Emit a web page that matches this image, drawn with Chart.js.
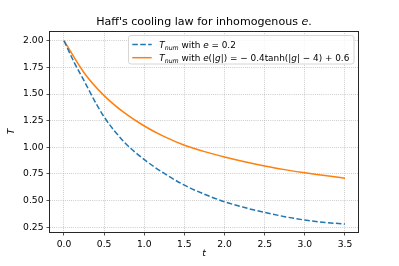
<!DOCTYPE html>
<html><head><meta charset="utf-8">
<script src="https://cdn.jsdelivr.net/npm/chart.js@4/dist/chart.umd.min.js"></script>
<style>html,body{margin:0;padding:0;background:#fff}#wrap{width:399px;height:266px}</style>
</head><body><div id="wrap"><canvas id="c" width="399" height="266"></canvas></div>
<script>
const timeConstE = [0, 0.125, 0.25, 0.375, 0.5, 0.75, 1.0, 1.25, 1.5, 1.75, 2.0, 2.25, 2.5, 2.75, 3.0, 3.25, 3.5];
const tempConstE = [2.0, 1.80, 1.625, 1.445, 1.285, 1.05, 0.885, 0.755, 0.645, 0.56, 0.49, 0.435, 0.39, 0.35, 0.318, 0.296, 0.28];
const timeVarE   = [0, 0.25, 0.5, 0.75, 1.0, 1.25, 1.5, 1.75, 2.0, 2.25, 2.5, 2.75, 3.0, 3.25, 3.5];
const tempVarE   = [2.0, 1.70, 1.485, 1.325, 1.20, 1.10, 1.02, 0.96, 0.91, 0.865, 0.825, 0.791, 0.761, 0.735, 0.711];
const xTicks = [0, 0.5, 1.0, 1.5, 2.0, 2.5, 3.0, 3.5];
const yTicks = [0.25, 0.5, 0.75, 1.0, 1.25, 1.5, 1.75, 2.0];
const titleSegs = [{t:"Haff's cooling law for inhomogenous "},{t:"e",i:1},{t:"."}];
const legend1 = [{t:"T",i:1},{t:"num",i:1,s:1},{t:" with "},{t:"e",i:1},{t:" = 0.2"}];
const legend2 = [{t:"T",i:1},{t:"num",i:1,s:1},{t:" with "},{t:"e",i:1},{t:"(|"},{t:"g",i:1},{t:"|) = \u2212 0.4tanh(|"},{t:"g",i:1},{t:"| \u2212 4) + 0.6"}];
const xLabel = "t";
const yLabel = "T";

const FONT = '"DejaVu Sans", sans-serif';
function rich(ctx, x, y, segs, size) {
  let cx = x;
  ctx.textBaseline = 'alphabetic';
  ctx.textAlign = 'left';
  for (const s of segs) {
    const fs = s.s ? size * 0.7 : size;
    ctx.font = (s.i ? 'oblique ' : '') + fs + 'px ' + FONT;
    ctx.fillText(s.t, cx, y + (s.s ? size * 0.22 : 0));
    cx += ctx.measureText(s.t).width;
  }
  return cx - x;
}
function richWidth(ctx, segs, size) {
  let w = 0;
  for (const s of segs) {
    const fs = s.s ? size * 0.7 : size;
    ctx.font = (s.i ? 'oblique ' : '') + fs + 'px ' + FONT;
    w += ctx.measureText(s.t).width;
  }
  return w;
}

const decor = {
  id: 'decor',
  afterDraw(chart) {
    const ctx = chart.ctx, a = chart.chartArea;
    ctx.save();
    ctx.strokeStyle = '#262626';
    ctx.lineWidth = 1;
    ctx.strokeRect(Math.round(a.left) - 0.5, Math.round(a.top) + 0.5, Math.round(a.right - a.left) + 1, Math.round(a.bottom - a.top));
    ctx.fillStyle = '#000';
    const tw = richWidth(ctx, titleSegs, 11.1);
    rich(ctx, (a.left + a.right) / 2 - tw / 2, 25, titleSegs, 11.1);
    const lx = 128.5, ly = 35.5, lw = 225.5, lh = 28.5, r = 2.5;
    ctx.beginPath();
    ctx.moveTo(lx + r, ly); ctx.lineTo(lx + lw - r, ly); ctx.quadraticCurveTo(lx + lw, ly, lx + lw, ly + r);
    ctx.lineTo(lx + lw, ly + lh - r); ctx.quadraticCurveTo(lx + lw, ly + lh, lx + lw - r, ly + lh);
    ctx.lineTo(lx + r, ly + lh); ctx.quadraticCurveTo(lx, ly + lh, lx, ly + lh - r);
    ctx.lineTo(lx, ly + r); ctx.quadraticCurveTo(lx, ly, lx + r, ly); ctx.closePath();
    ctx.fillStyle = 'rgba(255,255,255,0.8)'; ctx.fill();
    ctx.strokeStyle = '#cccccc'; ctx.lineWidth = 0.8; ctx.stroke();
    ctx.lineWidth = 1.5;
    ctx.strokeStyle = '#1f77b4'; ctx.setLineDash([5.55, 2.4]);
    ctx.beginPath(); ctx.moveTo(132.3, 44.5); ctx.lineTo(151.7, 44.5); ctx.stroke();
    ctx.setLineDash([]);
    ctx.strokeStyle = '#ff7f0e';
    ctx.beginPath(); ctx.moveTo(132.3, 57.7); ctx.lineTo(151.7, 57.7); ctx.stroke();
    ctx.fillStyle = '#000';
    const w2 = richWidth(ctx, legend2, 9.2);
    const sc = Math.min(1, 190 / w2);
    ctx.save(); ctx.translate(159.3, 0); ctx.scale(sc, 1);
    rich(ctx, 0, 47.8, legend1, 9.2);
    rich(ctx, 0, 61.0, legend2, 9.2);
    ctx.restore();
    ctx.font = 'oblique 9.2px ' + FONT;
    ctx.textAlign = 'center'; ctx.textBaseline = 'middle';
    ctx.fillText(xLabel, (a.left + a.right) / 2, 253.5);
    ctx.translate(11.7, (a.top + a.bottom) / 2);
    ctx.rotate(-Math.PI / 2);
    ctx.fillText(yLabel, 0, 0);
    ctx.restore();
  }
};

const gridOpts = { color: '#b0b0b0', lineWidth: 0.8, drawTicks: true, tickLength: 3.5, tickColor: '#262626', tickWidth: 0.8 };
const tickFont = { family: '"DejaVu Sans"', size: 9.2 };

new Chart(document.getElementById('c'), {
  type: 'line',
  data: {
    datasets: [
      { data: timeConstE.map((t, k) => ({ x: t, y: tempConstE[k] })), borderColor: '#1f77b4', borderWidth: 1.5, borderDash: [5.55, 2.4], pointRadius: 0, cubicInterpolationMode: 'monotone', fill: false },
      { data: timeVarE.map((t, k) => ({ x: t, y: tempVarE[k] })), borderColor: '#ff7f0e', borderWidth: 1.5, pointRadius: 0, cubicInterpolationMode: 'monotone', fill: false }
    ]
  },
  options: {
    responsive: false, animation: false, devicePixelRatio: 1,
    layout: { padding: { top: 31, right: 41, left: 0, bottom: 0 } },
    plugins: { legend: { display: false }, title: { display: false }, tooltip: { enabled: false } },
    scales: {
      x: {
        type: 'linear', min: -0.174, max: 3.662,
        afterBuildTicks: s => { s.ticks = xTicks.map(v => ({ value: v })); },
        afterFit: s => { s.height = 34; },
        ticks: { font: tickFont, color: '#000', padding: 3.5, maxRotation: 0, autoSkip: false, callback: v => Number(v).toFixed(1) },
        grid: gridOpts,
        border: { display: false, dash: [0.8, 1.32] }
      },
      y: {
        type: 'linear', min: 0.206, max: 2.091,
        afterBuildTicks: s => { s.ticks = yTicks.map(v => ({ value: v })); },
        afterFit: s => { s.width = 50; },
        ticks: { font: tickFont, color: '#000', padding: 3, autoSkip: false, callback: v => Number(v).toFixed(2) },
        grid: gridOpts,
        border: { display: false, dash: [0.8, 1.32] }
      }
    }
  },
  plugins: [decor]
});
</script>
</body></html>
